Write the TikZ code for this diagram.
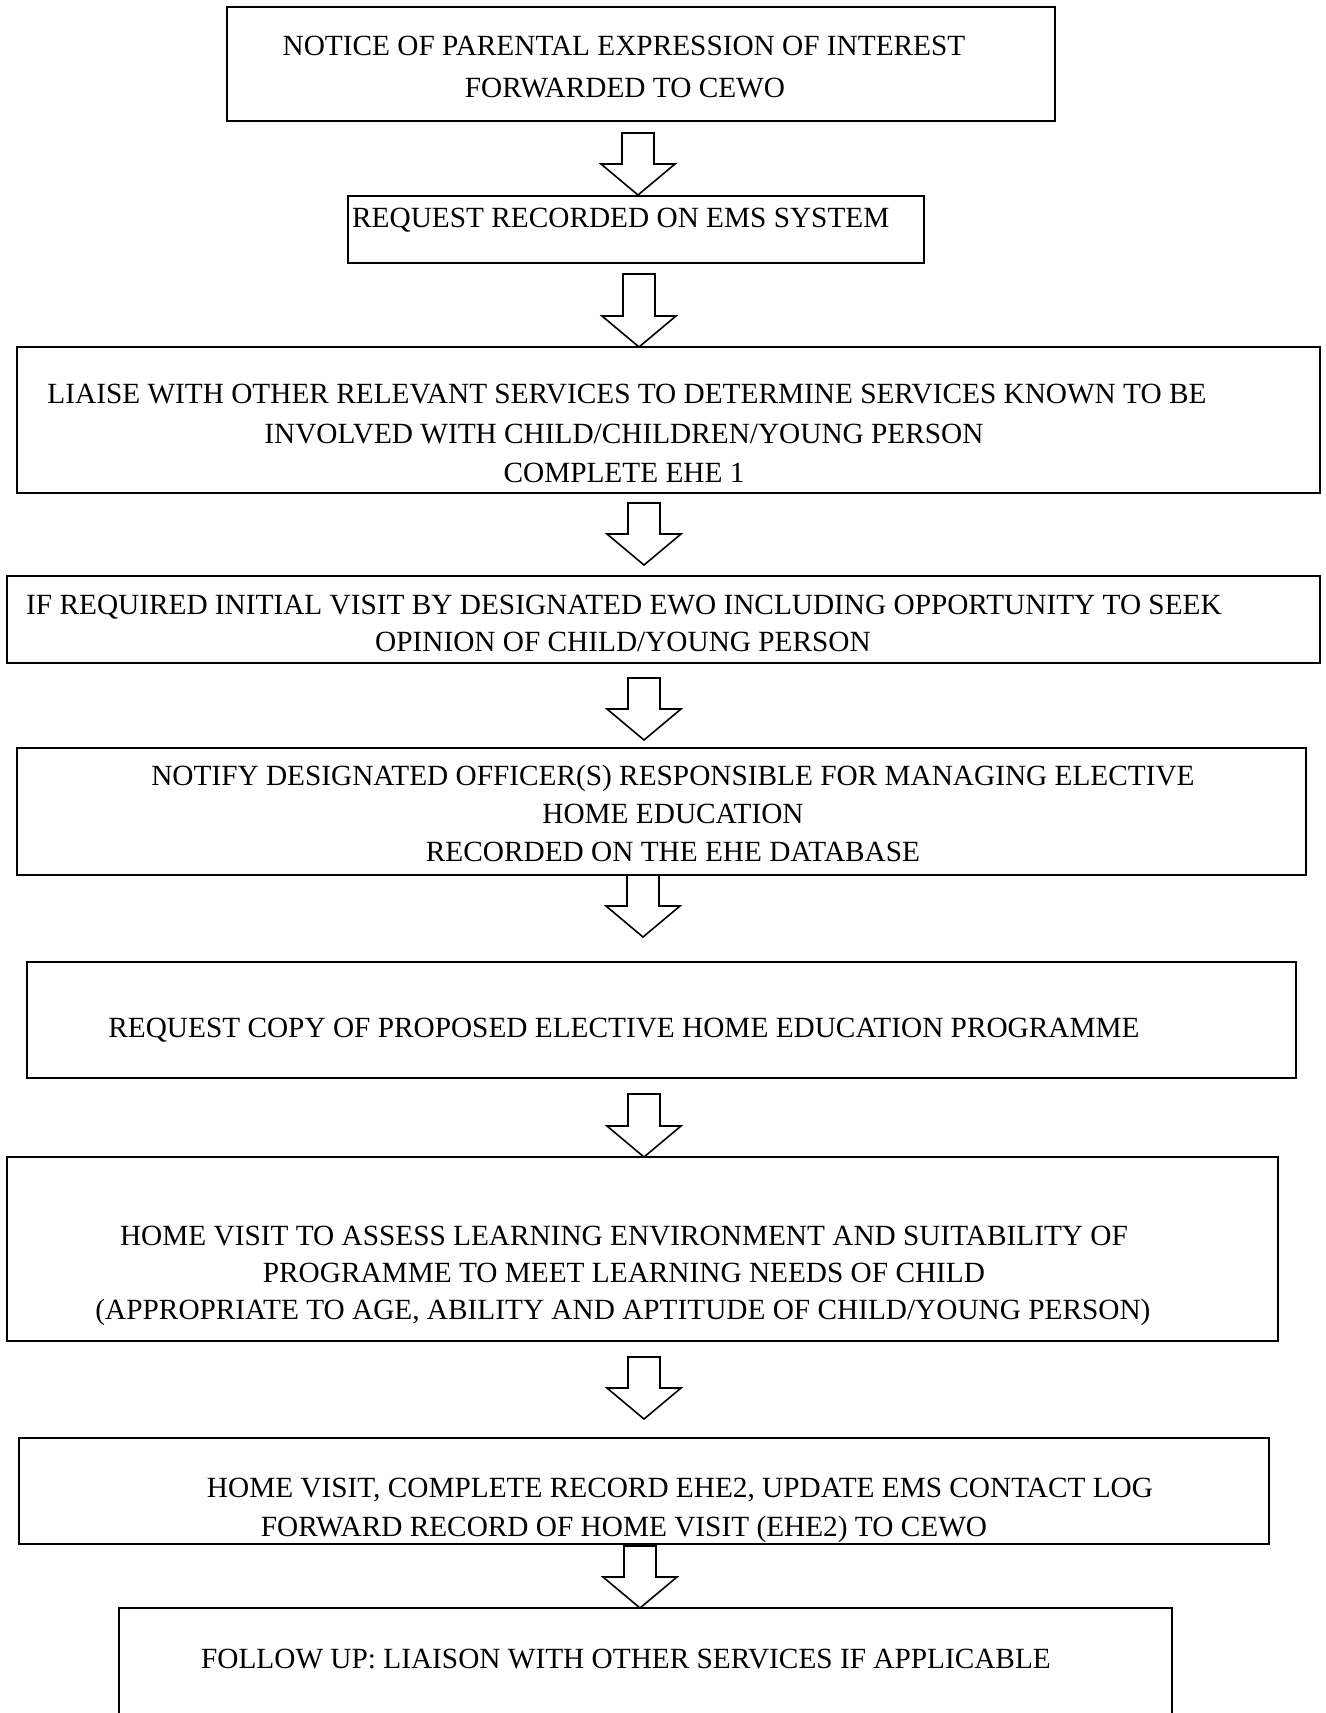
\documentclass[tikz,border=0pt]{standalone}
\usepackage{fontspec}
\setmainfont{Liberation Serif}
\usetikzlibrary{calc}
\tikzset{
  flowbox/.style={draw, line width=2pt, rectangle, inner sep=0pt, outer sep=0pt, anchor=north west},
  flowtext/.style={inner sep=0pt, anchor=base, font=\fontsize{29.3pt}{38pt}\selectfont},
  flowtextl/.style={flowtext, anchor=base west},
  blockarrow/.style={draw, line width=1.6pt, fill=white, line join=miter}
}
\newcommand\blockarr[5]{%
  \path (#3,0) coordinate (bx);
  \path ($(bx |- #1.south)+(0,#4)$) coordinate (btop);
  \path ($(bx |- #2.north)+(0,#5)$) coordinate (btip);
  \path ($(btip)+(0,-31)$) coordinate (bbase);
  \draw[blockarrow] ($(btop)+(-16,0)$) -- ($(bbase)+(-16,0)$) -- ($(bbase)+(-37,0)$)
     -- (btip) -- ($(bbase)+(37,0)$) -- ($(bbase)+(16,0)$) -- ($(btop)+(16,0)$) -- cycle;
}
\begin{document}
\begin{tikzpicture}[x=1pt,y=-1pt]
\clip (0,0) rectangle (1325,1713);
\fill[white] (0,0) rectangle (1325,1713);
% boxes
\node[flowbox, minimum width=828, minimum height=114] (b1) at (227,7) {};
\node[flowbox, minimum width=576, minimum height=67] (b2) at (348,196) {};
\node[flowbox, minimum width=1303, minimum height=146] (b3) at (17,347) {};
\node[flowbox, minimum width=1313, minimum height=87] (b4) at (7,576) {};
\node[flowbox, minimum width=1289, minimum height=127] (b5) at (17,748) {};
\node[flowbox, minimum width=1269, minimum height=116] (b6) at (27,962) {};
\node[flowbox, minimum width=1271, minimum height=184] (b7) at (7,1157) {};
\node[flowbox, minimum width=1250, minimum height=106] (b8) at (19,1438) {};
\node[flowbox, minimum width=1053, minimum height=140] (b9) at (119,1608) {};
% texts
\node[flowtext] (t1a) at (624,55.2) {NOTICE OF PARENTAL EXPRESSION OF INTEREST};
\node[flowtext] (t1b) at (625,97.2) {FORWARDED TO CEWO};
\node[flowtextl] (t2) at (352,227.7) {REQUEST RECORDED ON EMS SYSTEM};
\node[flowtext] (t3a) at (627,403.7) {LIAISE WITH OTHER RELEVANT SERVICES TO DETERMINE SERVICES KNOWN TO BE};
\node[flowtext] (t3b) at (624,443.7) {INVOLVED WITH CHILD/CHILDREN/YOUNG PERSON};
\node[flowtext] (t3c) at (624,482.7) {COMPLETE EHE 1};
\node[flowtext] (t4a) at (624,614.7) {IF REQUIRED INITIAL VISIT BY DESIGNATED EWO INCLUDING OPPORTUNITY TO SEEK};
\node[flowtext] (t4b) at (623,651.7) {OPINION OF CHILD/YOUNG PERSON};
\node[flowtext] (t5a) at (673,785.7) {NOTIFY DESIGNATED OFFICER(S) RESPONSIBLE FOR MANAGING ELECTIVE};
\node[flowtext] (t5b) at (673,823.7) {HOME EDUCATION};
\node[flowtext] (t5c) at (673,861.7) {RECORDED ON THE EHE DATABASE};
\node[flowtext] (t6) at (624,1037.7) {REQUEST COPY OF PROPOSED ELECTIVE HOME EDUCATION PROGRAMME};
\node[flowtext] (t7a) at (624,1245.7) {HOME VISIT TO ASSESS LEARNING ENVIRONMENT AND SUITABILITY OF};
\node[flowtext] (t7b) at (624,1282.7) {PROGRAMME TO MEET LEARNING NEEDS OF CHILD};
\node[flowtext] (t7c) at (623,1319.7) {(APPROPRIATE TO AGE, ABILITY AND APTITUDE OF CHILD/YOUNG PERSON)};
\node[flowtext] (t8a) at (680,1497.7) {HOME VISIT, COMPLETE RECORD EHE2, UPDATE EMS CONTACT LOG};
\node[flowtext] (t8b) at (624,1536.7) {FORWARD RECORD OF HOME VISIT (EHE2) TO CEWO};
\node[flowtext] (t9) at (626,1668.7) {FOLLOW UP: LIAISON WITH OTHER SERVICES IF APPLICABLE};
% block arrows
\blockarr{b1}{b2}{638}{12}{-1}
\blockarr{b2}{b3}{639}{11}{0}
\blockarr{b3}{b4}{644}{10}{-11}
\blockarr{b4}{b5}{644}{15}{-8}
\blockarr{b5}{b6}{643}{0}{-25}
\blockarr{b6}{b7}{644}{16}{0}
\blockarr{b7}{b8}{644}{16}{-19}
\blockarr{b8}{b9}{640}{2}{0}
\end{tikzpicture}
\end{document}
